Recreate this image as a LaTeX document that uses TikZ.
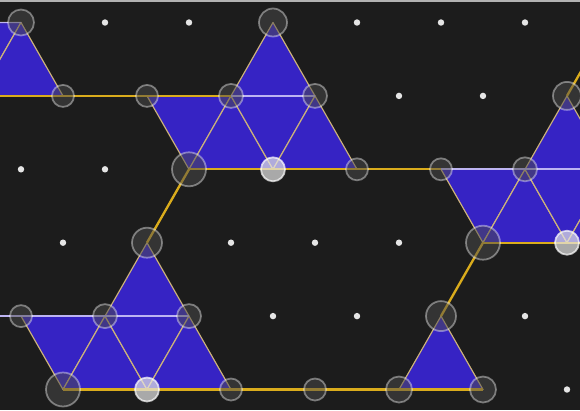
\documentclass[tikz,border=0pt]{standalone}
\usepackage{xcolor}
\usepackage{tikz}
\definecolor{bgdark}{HTML}{1C1C1C}
\definecolor{tileblue}{HTML}{3623C4}
\definecolor{gold}{HTML}{DAAC1C}
\definecolor{lilac}{HTML}{BDB4F2}
\definecolor{tan}{HTML}{CDB37A}

\begin{document}
\begin{tikzpicture}[x=0.03cm, y=-0.03cm,
    tile/.style={fill=tileblue, draw=tan, line width=1pt, line join=round},
    bond/.style={draw=gold, line width=2pt},
    rung/.style={draw=lilac, line width=1.6pt},
    site/.style={circle, inner sep=0pt, fill=gray!60!black, fill opacity=0.5, draw=white, draw opacity=0.4, line width=1.5pt},
    hotsite/.style={site, fill=white!80!gray, fill opacity=0.7, draw opacity=0.7},
    dot/.style={circle, inner sep=0pt, minimum size=5.5pt, fill=white!80!gray}
]
    % Fondo y borde superior
    \fill[bgdark] (0,0) rectangle (580,410);
    \fill[gray!60] (0,0) rectangle (580,2);
    \useasboundingbox (0,0) rectangle (580,410);
    \clip (0,0) rectangle (580,410);

    % Red triangular (columnas c = k+3)
    \foreach \r in {0,...,5} {
        \foreach \c in {0,...,19} {
            \coordinate (p\c r\r) at ({21+42*(\c-3)},{22.5+73.4*\r});
        }
    }

    % Triangulos azules
    \foreach \a/\b/\c in {1r0/3r0/2r1, 3r0/2r1/4r1,
        9r0/8r1/10r1, 6r1/8r1/7r2, 8r1/7r2/9r2, 8r1/10r1/9r2, 10r1/9r2/11r2,
        13r2/15r2/14r3, 15r2/14r3/16r3, 15r2/17r2/16r3, 16r1/15r2/17r2, 16r3/17r2/18r3,
        6r3/5r4/7r4, 3r4/5r4/4r5, 5r4/4r5/6r5, 5r4/7r4/6r5, 7r4/6r5/8r5,
        13r4/12r5/14r5} {
        \path[tile] (p\a) -- (p\b) -- (p\c) -- cycle;
    }

    % Enlaces dorados
    \draw[bond] (p2r1) -- (p4r1) -- (p6r1) -- (p8r1);
    \draw[bond] (p7r2) -- (p11r2) -- (p13r2);
    \draw[bond] (p14r3) -- (p18r3);
    \draw[bond] (p4r5) -- (p14r5);
    \draw[bond] (p7r2) -- (p6r3);
    \draw[bond] (p14r3) -- (p13r4);
    \draw[bond] (p16r1) -- (p17r0);

    % Enlaces internos
    \draw[rung] (p0r0) -- (p3r0);
    \draw[rung] (p8r1) -- (p10r1);
    \draw[rung] (p13r2) -- (p19r2);
    \draw[rung] (p1r4) -- (p7r4);

    % Sitios ocupados
    \foreach \p/\rad in {3r0/13, 4r1/11, 6r1/11, 8r1/12, 10r1/12, 9r0/14, 7r2/17,
        11r2/11, 13r2/11, 15r2/12, 16r1/14, 14r3/17, 6r3/15, 3r4/11, 5r4/12,
        7r4/12, 4r5/17, 8r5/11, 10r5/11, 12r5/13, 13r4/15, 14r5/13} {
        \node[site, minimum size=\rad*0.06cm] (s\p) at (p\p) {};
    }
    \foreach \p in {9r2, 16r3, 6r5} {
        \node[hotsite, minimum size=0.72cm] (s\p) at (p\p) {};
    }

    % Sitios libres
    \foreach \p in {5r0, 7r0, 11r0, 13r0, 15r0, 12r1, 14r1, 3r2, 5r2,
        4r3, 8r3, 10r3, 12r3, 9r4, 11r4, 15r4, 16r5} {
        \node[dot] (d\p) at (p\p) {};
    }
\end{tikzpicture}
\end{document}
